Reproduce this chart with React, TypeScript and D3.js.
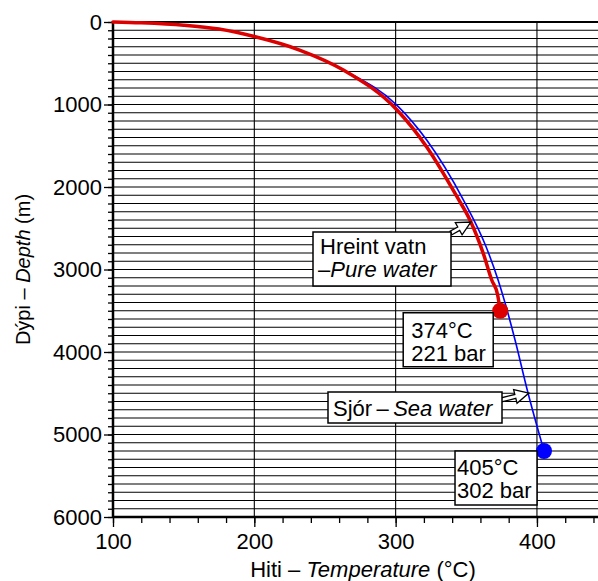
import * as d3 from 'd3';
import React, { useEffect, useRef } from 'react';

// Boiling point with depth, pure water (red) and sea water (blue)
const pureTemp = [100, 120, 150, 175, 200, 232, 263, 301, 322, 343.5, 352.6, 362, 368, 372.2, 374];
const pureDepth = [0, 10, 38, 85, 176, 340, 582, 1067, 1515, 2121, 2400, 2804, 3127, 3309, 3500];

const seaTemp = [100, 120, 150, 175, 200, 232, 263, 301, 322, 348, 364, 372.5, 379, 384.5, 393.5, 405];
const seaDepth = [0, 10, 37, 84, 175, 340, 582, 1010, 1430, 2158, 2724, 3127, 3500, 3855, 4485, 5200];

const criticalPure = { temp: 374, depth: 3500, lines: ['374°C', '221 bar'] };
const criticalSea = { temp: 405, depth: 5200, lines: ['405°C', '302 bar'] };

const yMajor = [0, 1000, 2000, 3000, 4000, 5000, 6000];
const xMajor = [100, 200, 300, 400];

const FONT = '"Liberation Sans", Arial, sans-serif';

const App = () => {
  const ref = useRef<SVGSVGElement>(null);

  useEffect(() => {
    const width = 598, height = 581;
    const margin = { top: 22, right: 0, bottom: 64, left: 113 };

    const svg = d3.select(ref.current);
    svg.selectAll('*').remove();

    const x = d3.scaleLinear().domain([100, 443.2]).range([margin.left, width - margin.right]);
    const y = d3.scaleLinear().domain([0, 6000]).range([margin.top, height - margin.bottom]);

    // horizontal grid every 100 m
    svg.append('g')
      .selectAll('line')
      .data(d3.range(100, 6000, 100))
      .join('line')
      .attr('x1', margin.left).attr('x2', width)
      .attr('y1', d => y(d)).attr('y2', d => y(d))
      .attr('stroke', '#000').attr('stroke-width', 1.1);

    // vertical grid
    svg.append('g')
      .selectAll('line')
      .data(xMajor.slice(1))
      .join('line')
      .attr('x1', d => x(d)).attr('x2', d => x(d))
      .attr('y1', y(0)).attr('y2', y(6000))
      .attr('stroke', '#000').attr('stroke-width', 1.1);

    // y axis
    const yMinor = svg.append('g')
      .attr('transform', `translate(${margin.left},0)`)
      .call(d3.axisLeft(y).tickValues(d3.range(0, 6001, 100)).tickSize(5).tickFormat(() => ''));
    yMinor.select('.domain').remove();
    const yAx = svg.append('g')
      .attr('transform', `translate(${margin.left},0)`)
      .call(d3.axisLeft(y).tickValues(yMajor).tickSize(9).tickPadding(2).tickFormat(d3.format('d')));
    yAx.select('.domain').remove();
    yAx.selectAll('text').attr('font-size', 22).attr('font-family', FONT).attr('fill', '#000');

    // x axis
    const xMinor = svg.append('g')
      .attr('transform', `translate(0,${y(6000)})`)
      .call(d3.axisBottom(x).tickValues(d3.range(100, 441, 20)).tickSize(6).tickFormat(() => ''));
    xMinor.select('.domain').remove();
    const xAx = svg.append('g')
      .attr('transform', `translate(0,${y(6000)})`)
      .call(d3.axisBottom(x).tickValues(xMajor).tickSize(10).tickPadding(6).tickFormat(d3.format('d')));
    xAx.select('.domain').remove();
    xAx.selectAll('text').attr('font-size', 22).attr('font-family', FONT).attr('fill', '#000');
    svg.selectAll('.tick line').attr('stroke', '#000').attr('stroke-width', 1.3);

    // frame lines
    svg.append('line').attr('x1', margin.left).attr('x2', width).attr('y1', y(0)).attr('y2', y(0))
      .attr('stroke', '#000').attr('stroke-width', 2);
    svg.append('line').attr('x1', margin.left).attr('x2', width).attr('y1', y(6000)).attr('y2', y(6000))
      .attr('stroke', '#000').attr('stroke-width', 2.5);
    svg.append('line').attr('x1', margin.left).attr('x2', margin.left).attr('y1', y(0) - 1).attr('y2', y(6000) + 1)
      .attr('stroke', '#000').attr('stroke-width', 2.5);

    // curves
    const line = d3.line<[number, number]>()
      .x(d => x(d[0])).y(d => y(d[1]))
      .curve(d3.curveMonotoneX);

    svg.append('path')
      .datum(seaTemp.map((t, i) => [t, seaDepth[i]] as [number, number]))
      .attr('d', line)
      .attr('fill', 'none').attr('stroke', '#0000ff').attr('stroke-width', 1.6);

    svg.append('path')
      .datum(pureTemp.map((t, i) => [t, pureDepth[i]] as [number, number]))
      .attr('d', line)
      .attr('fill', 'none').attr('stroke', '#dd0000').attr('stroke-width', 3.5)
      .attr('stroke-linejoin', 'round').attr('stroke-linecap', 'round');

    svg.append('circle').attr('cx', x(criticalPure.temp)).attr('cy', y(criticalPure.depth))
      .attr('r', 8).attr('fill', '#dd0000');
    svg.append('circle').attr('cx', x(criticalSea.temp)).attr('cy', y(criticalSea.depth))
      .attr('r', 8).attr('fill', '#0000ff');

    // block arrow outline
    const arrow = (x0: number, y0: number, x1: number, y1: number) => {
      const len = Math.hypot(x1 - x0, y1 - y0);
      const ux = (x1 - x0) / len, uy = (y1 - y0) / len;
      const nx = -uy, ny = ux;
      const sw = 2, hw = 7, hl = 14;
      const bx = x1 - ux * hl, by = y1 - uy * hl;
      const pts = [
        [x0 + nx * sw, y0 + ny * sw], [bx + nx * sw, by + ny * sw], [bx + nx * hw, by + ny * hw],
        [x1, y1],
        [bx - nx * hw, by - ny * hw], [bx - nx * sw, by - ny * sw], [x0 - nx * sw, y0 - ny * sw],
      ];
      svg.append('path')
        .attr('d', 'M' + pts.map(p => p.join(',')).join('L') + 'Z')
        .attr('fill', '#fff').attr('stroke', '#000').attr('stroke-width', 1.3)
        .attr('stroke-linejoin', 'miter');
    };

    const box = (bx: number, by: number, bw: number, bh: number) => {
      svg.append('rect').attr('x', bx).attr('y', by).attr('width', bw).attr('height', bh)
        .attr('fill', '#fff').attr('stroke', '#000').attr('stroke-width', 1.5);
    };

    const label = (tx: number, ty: number, parts: [string, boolean][]) => {
      const t = svg.append('text').attr('x', tx).attr('y', ty)
        .attr('font-size', 22).attr('font-family', FONT).attr('fill', '#000');
      parts.forEach(([s, it]) => t.append('tspan').attr('font-style', it ? 'italic' : 'normal').text(s));
    };

    // pure water label
    arrow(451, 233, x(353.3), y(2424));
    box(313, 232, 138, 54);
    label(320, 254, [['Hreint vatn', false]]);
    label(318, 277, [['–', false], ['Pure water', true]]);

    // sea water label
    arrow(501, 400, x(394.3), y(4497));
    box(328, 392, 174, 31);
    label(333, 416, [['Sjór', false], ['\u2009–\u2009', false], ['Sea water', true]]);

    // critical point labels
    const cpx = x(criticalPure.temp), cpy = y(criticalPure.depth);
    box(cpx - 97, cpy + 2, 90, 54);
    criticalPure.lines.forEach((s, i) => label(cpx - 89, cpy + 27 + i * 23, [[s, false]]));

    const csx = x(criticalSea.temp), csy = y(criticalSea.depth);
    box(csx - 89, csy, 82, 54);
    criticalSea.lines.forEach((s, i) => label(csx - 87, csy + 24 + i * 23, [[s, false]]));

    // axis titles
    const xt = svg.append('text').attr('x', 363).attr('y', 577).attr('text-anchor', 'middle')
      .attr('font-size', 22).attr('font-family', FONT).attr('fill', '#000');
    xt.append('tspan').text('Hiti – ');
    xt.append('tspan').attr('font-style', 'italic').text('Temperature');
    xt.append('tspan').text(' (°C)');

    const yt = svg.append('text').attr('transform', `translate(30,${(y(0) + y(6000)) / 2}) rotate(-90)`)
      .attr('text-anchor', 'middle')
      .attr('font-size', 20).attr('font-family', FONT).attr('fill', '#000');
    yt.append('tspan').text('Dýpi – ');
    yt.append('tspan').attr('font-style', 'italic').text('Depth');
    yt.append('tspan').text(' (m)');
  }, []);

  return (
    <svg ref={ref} width={598} height={581}
      style={{ position: 'absolute', left: 0, top: 0, background: '#fff' }} />
  );
};

export default App;
